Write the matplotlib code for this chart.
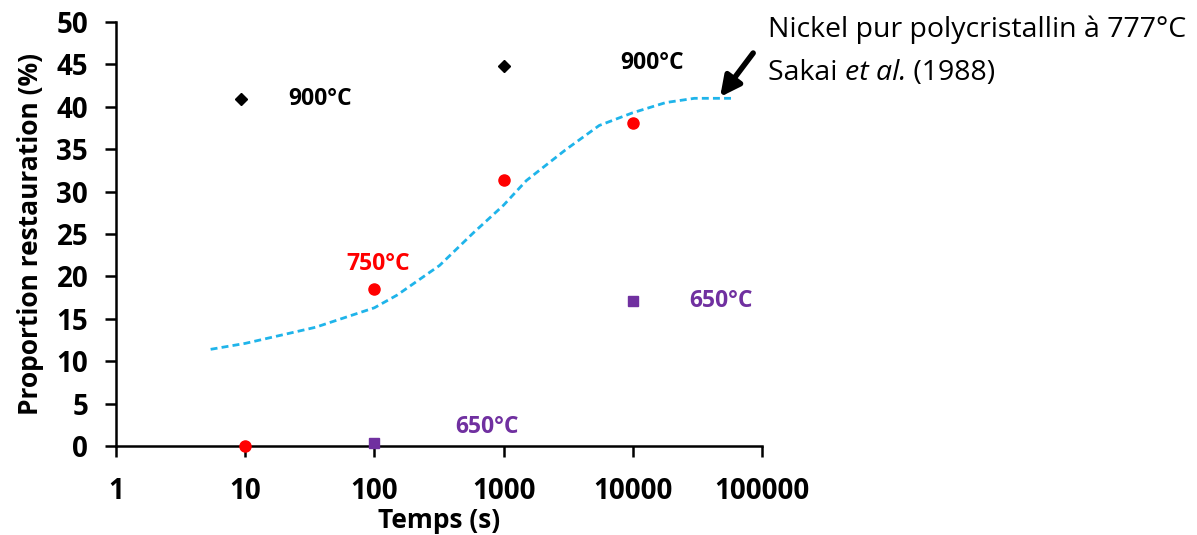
import numpy as np
import matplotlib.pyplot as plt

plt.rcParams['font.family'] = ['Open Sans', 'DejaVu Sans']

# Donnees
t_900 = [9.2, 1000]
r_900 = [40.9, 44.8]

t_750 = [10, 100, 1000, 10000]
r_750 = [0.0, 18.5, 31.4, 38.1]

t_650 = [100, 10000]
r_650 = [0.3, 17.1]

# Courbe de Sakai et al. (1988)
t_sakai = [5.4, 10, 35, 100, 150, 320, 580, 1000, 1500, 3000, 5500, 10000, 18000, 30000, 60000]
r_sakai = [11.4, 12.1, 14.0, 16.3, 17.8, 21.3, 25.1, 28.4, 31.3, 34.9, 37.8, 39.3, 40.5, 41.0, 41.0]

xticks = [1, 10, 100, 1000, 10000, 100000]
yticks = np.arange(0, 55, 5)

fig = plt.figure(figsize=(11.97, 5.35), dpi=100)
ax = fig.add_axes([116/1197, 1-446/535, (762-116)/1197, (446-22)/535])

ax.plot(t_sakai, r_sakai, color='#1fb4ea', lw=2, ls=(0, (2.5, 1.5)))
ax.plot(t_900, r_900, 'D', color='black', ms=6, clip_on=False)
ax.plot(t_750, r_750, 'o', color='#ff0000', ms=8, clip_on=False, zorder=5)
ax.plot(t_650, r_650, 's', color='#7030a0', ms=7.5, clip_on=False, zorder=5)

ax.set_xscale('log')
ax.set_xlim(1, 100000)
ax.set_ylim(0, 50)
ax.set_xticks(xticks)
ax.set_xticklabels([str(v) for v in xticks])
ax.minorticks_off()
ax.set_yticks(yticks)

for s in ['top', 'right']:
    ax.spines[s].set_visible(False)
for s in ['left', 'bottom']:
    ax.spines[s].set_linewidth(1.8)
ax.tick_params(axis='both', width=1.8, length=8, labelsize=20)
ax.tick_params(axis='x', pad=14)
ax.tick_params(axis='y', pad=12)
for lab in ax.get_xticklabels() + ax.get_yticklabels():
    lab.set_fontweight('bold')

ax.set_xlabel('Temps (s)', fontsize=19, fontweight='bold', labelpad=1)
ax.set_ylabel('Proportion restauration (%)', fontsize=19, fontweight='bold', labelpad=9)

# Etiquettes des temperatures
lab_kw = dict(fontsize=16.5, fontweight='bold', ha='center', va='center')
ax.text(38, 40.9, '900°C', color='black', **lab_kw)
ax.text(14000, 45.2, '900°C', color='black', **lab_kw)
ax.text(107, 21.5, '750°C', color='#ff0000', **lab_kw)
ax.text(48000, 17.1, '650°C', color='#7030a0', **lab_kw)
ax.text(745, 2.2, '650°C', color='#7030a0', **lab_kw)

# Annotation Sakai
ax.annotate('', xy=(46000, 40.9), xytext=(88000, 46.6),
            arrowprops=dict(arrowstyle='-|>', color='black', lw=4, mutation_scale=30),
            annotation_clip=False)
fig.text(768/1197, 1-30/535, 'Nickel pur polycristallin à 777°C', fontsize=20.5, va='center', ha='left')

# deuxieme ligne avec "et al." en italique
fig.canvas.draw()
r = fig.canvas.get_renderer()
x0 = 768
pieces = [('Sakai ', 'normal'), ('et al.', 'italic'), (' (1988)', 'normal')]
for txt, style in pieces:
    t = fig.text(x0/1197, 1-73/535, txt, fontsize=20.5, va='center', ha='left', fontstyle=style)
    bb = t.get_window_extent(renderer=r)
    x0 += bb.width

plt.savefig('out.png', dpi=100)
